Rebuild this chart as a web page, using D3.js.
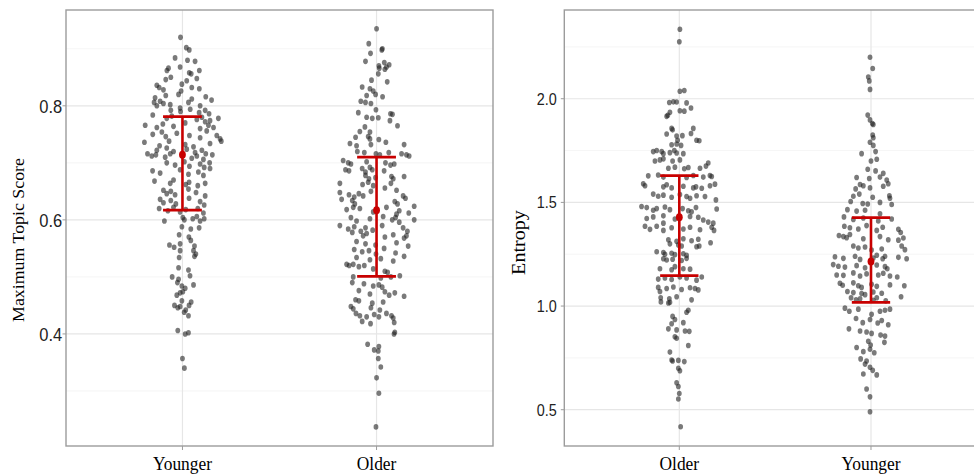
<!DOCTYPE html>
<html>
<head>
<meta charset="utf-8">
<script src="https://cdn.jsdelivr.net/npm/d3@7"></script>
<style>
  body { margin: 0; background: #fff; }
  svg { display: block; }
</style>
</head>
<body>
<svg id="chart" width="974" height="474"></svg>
<script>
// group labels + summary (mean and mean +/- sd)
var topicGroups = ["Younger", "Older"];
var topicMean = [0.714, 0.617];
var topicLow = [0.617, 0.501];
var topicHigh = [0.781, 0.710];
var topicTicks = [0.4, 0.6, 0.8];
var topicMinor = [0.3, 0.5, 0.7, 0.9];

var entropyGroups = ["Older", "Younger"];
var entropyMean = [1.428, 1.215];
var entropyLow = [1.147, 1.018];
var entropyHigh = [1.629, 1.427];
var entropyTicks = [0.5, 1.0, 1.5, 2.0];
var entropyMinor = [0.75, 1.25, 1.75, 2.25];

// raw points: [jitter (category units), value]
var topicYounger = [
  [-0.01,0.920],[0.02,0.902],[0.035,0.898],[-0.038,0.884],[0.026,0.880],[0.065,0.878],
  [-0.072,0.866],[-0.08,0.862],[-0.012,0.868],[0.035,0.858],[0.045,0.856],[0.087,0.862],
  [-0.086,0.846],[-0.060,0.850],[0.022,0.844],[0.074,0.848],
  [-0.132,0.836],[-0.12,0.832],[-0.098,0.828],[-0.003,0.838],[-0.007,0.826],[0.048,0.832],[0.087,0.830],
  [-0.086,0.818],[-0.02,0.820],[0.048,0.812],[0.12,0.816],[0.15,0.810],[-0.141,0.814],
  [-0.146,0.806],[-0.132,0.800],[-0.115,0.808],[-0.098,0.804],[-0.063,0.802],[0.091,0.800],[0.031,0.806],[-0.012,0.796],
  [-0.06,0.792],[-0.01,0.790],[0.04,0.794],[0.086,0.788],[0.117,0.792],[0.137,0.786],
  [-0.153,0.784],[-0.081,0.778],[-0.055,0.782],[0.074,0.776],[0.1,0.780],[0.185,0.778],[0.117,0.772],[0.142,0.774],
  [-0.192,0.766],[-0.132,0.762],[-0.101,0.768],[-0.046,0.764],[0.014,0.770],[0.091,0.760],[0.134,0.766],[0.16,0.762],
  [-0.153,0.750],[-0.106,0.754],[-0.086,0.746],[-0.029,0.752],[0.036,0.748],[0.091,0.744],[0.125,0.756],[0.177,0.748],[0.194,0.742],
  [-0.196,0.736],[-0.118,0.730],[-0.069,0.738],[0.014,0.732],[0.057,0.728],[0.142,0.734],[0.2,0.738],
  [-0.132,0.722],[-0.081,0.726],[-0.046,0.720],[0.022,0.724],[0.065,0.718],[0.1,0.722],[0.12,0.716],
  [-0.18,0.716],[-0.158,0.712],[-0.137,0.714],[-0.089,0.710],[-0.063,0.716],[0.048,0.708],[0.074,0.712],[0.108,0.706],[0.154,0.714],
  [-0.081,0.700],[-0.038,0.696],[0.01,0.702],[0.036,0.694],[0.091,0.698],[0.112,0.692],[0.14,0.700],[0.142,0.690],
  [-0.154,0.686],[-0.115,0.682],[-0.012,0.688],[0.031,0.680],[0.082,0.684],[0.108,0.678],
  [-0.144,0.668],[-0.063,0.664],[-0.046,0.670],[0.017,0.662],[0.034,0.666],[0.079,0.660],[0.117,0.664],
  [-0.098,0.652],[-0.081,0.646],[-0.06,0.650],[-0.038,0.644],[0.031,0.654],[0.07,0.648],[0.117,0.642],
  [-0.115,0.636],[-0.098,0.630],[-0.06,0.634],[-0.034,0.628],[0.034,0.638],[0.091,0.632],[0.112,0.626],
  [-0.12,0.620],[-0.075,0.616],[-0.046,0.622],[-0.012,0.614],[0.017,0.618],[0.079,0.620],[0.108,0.612],
  [-0.093,0.598],[0.002,0.604],[0.01,0.600],[0.053,0.602],[0.074,0.606],[0.091,0.598],[0.112,0.602],
  [-0.003,0.588],[0.043,0.584],[0.086,0.586],[-0.017,0.574],[0.033,0.570],[0.043,0.564],
  [-0.067,0.556],[-0.043,0.552],[-0.012,0.558],[0.062,0.554],
  [-0.012,0.546],[-0.017,0.534],[0.057,0.546],[0.069,0.540],[0.062,0.536],
  [-0.02,0.516],[0.031,0.512],[-0.053,0.500],[-0.02,0.496],[0.039,0.502],
  [-0.026,0.490],[-0.003,0.484],[0.014,0.480],[0.057,0.486],
  [-0.012,0.472],[-0.029,0.468],[0.002,0.474],[-0.003,0.458],[0.045,0.456],
  [-0.041,0.450],[-0.024,0.446],[-0.012,0.448],[0.017,0.442],[0.034,0.450],
  [0.009,0.438],[0.031,0.432],[-0.024,0.406],[0.014,0.400],[0.031,0.402],
  [0.0,0.357],[0.01,0.340]
];

var topicOlder = [
  [0.0,0.935],[-0.04,0.909],[0.027,0.898],[0.03,0.900],[-0.031,0.892],
  [-0.057,0.878],[0.012,0.870],[0.04,0.876],[0.051,0.868],[0.065,0.872],[0.014,0.866],[0.043,0.864],[0.009,0.856],
  [-0.026,0.845],[0.055,0.842],[-0.074,0.833],[-0.034,0.830],[-0.017,0.826],
  [-0.051,0.818],[-0.005,0.820],[0.031,0.816],[-0.081,0.808],[-0.057,0.806],[-0.029,0.804],
  [-0.003,0.793],[-0.094,0.788],[0.072,0.786],[0.082,0.785],[-0.051,0.780],[-0.022,0.778],[0.009,0.779],[0.069,0.774],
  [0.108,0.765],[-0.06,0.763],[-0.086,0.755],[-0.034,0.754],
  [-0.108,0.745],[-0.043,0.746],[-0.034,0.742],[0.012,0.741],
  [-0.137,0.734],[-0.103,0.730],[-0.029,0.732],[0.048,0.736],[0.142,0.732],
  [-0.099,0.720],[-0.063,0.718],[-0.003,0.716],[0.017,0.714],[0.063,0.718],[0.129,0.716],[0.154,0.714],[0.168,0.712],
  [-0.172,0.704],[-0.146,0.700],[-0.132,0.698],[-0.051,0.702],[0.046,0.700],[0.072,0.696],[0.091,0.698],[-0.034,0.692],
  [-0.16,0.688],[-0.142,0.686],[-0.074,0.690],[-0.057,0.684],[-0.022,0.688],[0.039,0.686],
  [-0.057,0.678],[-0.005,0.674],[0.077,0.676],[0.086,0.672],[0.142,0.676],[-0.039,0.672],
  [-0.189,0.664],[-0.072,0.662],[-0.043,0.666],[-0.017,0.660],[0.043,0.656],[0.074,0.664],[0.103,0.652],
  [-0.189,0.648],[-0.142,0.644],[-0.115,0.640],[-0.091,0.646],[-0.069,0.642],[-0.029,0.650],[0.137,0.642],
  [-0.18,0.636],[-0.125,0.634],[-0.112,0.628],[-0.12,0.622],[0.094,0.632],[0.108,0.628],[0.149,0.638],[0.194,0.624],
  [-0.154,0.618],[-0.086,0.620],[-0.017,0.614],[0.051,0.622],[0.117,0.616],[0.166,0.612],[0.103,0.610],
  [-0.132,0.604],[-0.103,0.598],[-0.034,0.602],[0.034,0.606],[0.081,0.600],[0.117,0.596],[0.098,0.604],[0.194,0.600],
  [-0.189,0.590],[-0.146,0.584],[-0.115,0.588],[-0.081,0.580],[-0.057,0.586],[-0.02,0.582],[0.029,0.590],[0.137,0.586],[0.159,0.580],
  [-0.125,0.578],[-0.069,0.572],[-0.051,0.576],[0.043,0.570],[0.086,0.574],[0.142,0.568],[0.154,0.572],
  [-0.103,0.562],[-0.057,0.558],[-0.005,0.556],[0.103,0.560],[0.163,0.554],
  [-0.115,0.548],[-0.074,0.544],[-0.039,0.546],[-0.003,0.540],[0.039,0.550],[0.098,0.542],
  [-0.103,0.534],[-0.034,0.530],[0.022,0.532],[0.086,0.528],[0.142,0.536],
  [-0.154,0.522],[-0.141,0.520],[-0.12,0.522],[-0.091,0.518],[-0.063,0.520],
  [-0.017,0.514],[0.043,0.510],[0.057,0.508],
  [-0.12,0.500],[0.022,0.498],[0.074,0.500],[0.12,0.502],
  [-0.125,0.490],[-0.065,0.488],[-0.017,0.484],[0.012,0.486],[0.029,0.482],
  [-0.091,0.476],[-0.034,0.470],[0.043,0.474],[0.065,0.468],[0.094,0.472],[0.142,0.466],
  [-0.108,0.460],[-0.091,0.458],[-0.022,0.454],[0.034,0.456],
  [-0.132,0.448],[-0.12,0.444],[-0.029,0.446],[0.017,0.442],
  [-0.106,0.436],[-0.086,0.432],[-0.051,0.430],[-0.012,0.434],[0.012,0.430],[0.051,0.436],[0.077,0.432],[0.086,0.428],
  [-0.074,0.422],[-0.031,0.418],[0.091,0.420],[0.094,0.403],[0.09,0.400],
  [-0.046,0.382],[0.012,0.378],[-0.012,0.372],[0.009,0.370],[0.009,0.357],
  [0.022,0.342],[0.0,0.323],[0.012,0.296],[-0.003,0.237]
];

var entropyOlder = [
  [0.003,2.335],[0.0,2.275],[0.003,2.036],[0.026,2.040],
  [-0.052,1.982],[-0.031,1.985],[-0.014,1.984],[0.038,1.980],
  [0.003,1.942],[0.026,1.940],[0.061,1.955],[-0.049,1.935],[-0.066,1.915],[-0.06,1.92],
  [-0.04,1.857],[-0.035,1.850],[0.073,1.857],
  [-0.066,1.830],[-0.014,1.820],[0.016,1.822],[0.061,1.832],
  [-0.009,1.800],[0.09,1.800],[0.104,1.797],[-0.04,1.778],[-0.014,1.782],[0.009,1.775],
  [-0.136,1.745],[-0.118,1.750],[-0.092,1.745],[-0.049,1.740],[-0.026,1.750],[-0.014,1.738],[0.021,1.735],[-0.083,1.735],
  [-0.127,1.700],[-0.101,1.705],[-0.083,1.710],[-0.035,1.700],[0.003,1.705],[0.151,1.690],
  [-0.057,1.665],[-0.023,1.670],[0.026,1.662],[0.047,1.668],[0.108,1.665],[0.139,1.675],
  [-0.162,1.628],[-0.11,1.632],[-0.083,1.622],[0.038,1.620],[0.073,1.630],[0.125,1.622],[0.16,1.630],[0.169,1.625],
  [-0.188,1.590],[-0.179,1.580],[-0.083,1.575],[-0.066,1.585],[-0.04,1.570],[0.021,1.578],[0.073,1.570],[0.087,1.575],[0.117,1.568],[0.16,1.580],[0.186,1.588],
  [-0.136,1.540],[-0.11,1.530],[-0.083,1.535],[-0.04,1.525],[0.003,1.538],[0.038,1.528],[0.056,1.520],[0.09,1.532],[0.134,1.528],[0.191,1.512],
  [-0.197,1.480],[-0.17,1.475],[-0.136,1.462],[-0.118,1.470],[-0.075,1.478],[-0.049,1.465],[0.017,1.470],[0.047,1.460],[0.064,1.455],[0.087,1.475],[0.195,1.468],
  [-0.17,1.422],[-0.136,1.430],[-0.083,1.435],[-0.023,1.420],[0.056,1.432],[0.099,1.428],[0.125,1.415],[0.151,1.405],[0.177,1.400],[-0.083,1.400],
  [-0.179,1.385],[-0.153,1.370],[-0.118,1.385],[-0.083,1.365],[-0.04,1.378],[0.021,1.372],[0.056,1.380],[0.108,1.368],[0.169,1.380],[0.181,1.365],
  [-0.057,1.320],[-0.014,1.312],[0.021,1.325],[0.064,1.315],[0.099,1.322],[0.163,1.305],
  [-0.049,1.300],[-0.005,1.295],[0.012,1.290],[0.09,1.286],[0.104,1.290],
  [-0.118,1.262],[-0.083,1.258],[-0.075,1.250],[-0.04,1.255],[-0.023,1.248],[0.021,1.252],[0.038,1.245],
  [-0.083,1.228],[-0.066,1.222],[-0.035,1.226],[0.012,1.220],[0.038,1.230],
  [-0.101,1.180],[-0.04,1.175],[-0.023,1.190],[0.021,1.180],[0.056,1.178],
  [-0.11,1.130],[-0.075,1.135],[-0.04,1.128],[0.003,1.140],[0.038,1.135],[0.09,1.125],[0.117,1.140],
  [-0.11,1.090],[-0.066,1.085],[-0.031,1.092],[0.012,1.080],[0.056,1.088],[0.082,1.085],[0.099,1.078],[-0.101,1.070],
  [-0.097,1.040],[-0.052,1.035],[-0.014,1.045],[0.064,1.030],[-0.096,1.020],[-0.057,1.015],[-0.049,1.018],
  [0.047,0.980],[0.038,0.970],[-0.035,0.950],[-0.023,0.935],[-0.04,0.915],[0.021,0.920],
  [-0.057,0.890],[-0.014,0.885],[0.03,0.880],[0.052,0.878],[-0.023,0.852],[-0.014,0.845],
  [0.047,0.810],[-0.049,0.778],[-0.04,0.740],[-0.035,0.735],[-0.005,0.738],[0.026,0.732],
  [-0.005,0.700],[0.003,0.688],[-0.014,0.630],[-0.005,0.612],[0.0,0.578],[-0.005,0.552],[0.007,0.418]
];

var entropyYounger = [
  [-0.005,2.200],[0.009,2.146],[-0.014,2.105],[-0.009,2.086],[-0.005,2.045],
  [-0.017,1.921],[-0.005,1.898],[0.007,1.880],[0.012,1.876],[0.009,1.825],[0.012,1.812],
  [-0.005,1.790],[0.012,1.775],[0.024,1.745],[-0.049,1.735],[0.0,1.700],[0.03,1.708],
  [-0.017,1.660],[0.024,1.652],[0.064,1.640],
  [-0.075,1.620],[-0.009,1.615],[0.047,1.622],[0.082,1.608],
  [-0.057,1.586],[-0.04,1.580],[-0.08,1.565],[-0.005,1.570],[0.064,1.578],[0.09,1.590],
  [-0.092,1.530],[-0.061,1.540],[0.009,1.525],[0.096,1.532],[0.099,1.520],
  [-0.106,1.504],[-0.043,1.495],[-0.017,1.492],[0.047,1.500],[0.108,1.490],
  [-0.123,1.465],[-0.075,1.458],[-0.031,1.462],[0.047,1.445],
  [-0.141,1.430],[-0.092,1.418],[-0.04,1.425],[0.038,1.410],[0.108,1.420],
  [-0.139,1.385],[-0.11,1.378],[-0.066,1.372],[-0.023,1.388],[0.03,1.365],[0.061,1.380],[0.143,1.370],[0.155,1.355],
  [-0.167,1.340],[-0.144,1.335],[-0.127,1.330],[-0.11,1.345],[-0.04,1.325],[0.047,1.335],[0.09,1.320],[0.143,1.318],[0.169,1.328],
  [-0.092,1.290],[-0.066,1.280],[-0.031,1.285],[0.003,1.270],[0.056,1.275],[0.16,1.290],[0.177,1.272],
  [-0.188,1.238],[-0.144,1.230],[-0.083,1.240],[-0.057,1.225],[0.012,1.232],[0.03,1.245],[0.061,1.228],[0.073,1.240],[0.143,1.235],[0.186,1.228],
  [-0.197,1.200],[-0.17,1.192],[-0.136,1.188],[-0.075,1.195],[-0.031,1.185],[0.03,1.198],[0.073,1.190],[0.085,1.180],
  [-0.179,1.150],[-0.144,1.148],[-0.092,1.160],[-0.057,1.145],[-0.023,1.155],[0.038,1.150],[0.064,1.158],[0.099,1.145],[0.137,1.140],
  [-0.162,1.110],[-0.148,1.100],[-0.092,1.112],[-0.066,1.098],[-0.049,1.090],[0.003,1.105],[0.03,1.095],[0.099,1.102],[0.174,1.098],
  [-0.123,1.070],[-0.092,1.065],[-0.049,1.060],[-0.031,1.055],[0.012,1.068],[0.056,1.062],[0.157,1.045],
  [-0.104,1.040],[-0.078,1.030],[-0.057,1.035],[0.012,1.028],[0.03,1.040],[0.077,1.025],
  [-0.136,0.990],[-0.113,0.975],[-0.066,0.985],[0.003,0.960],[0.047,0.975],[0.073,0.980],[0.099,0.985],
  [-0.078,0.940],[-0.043,0.920],[-0.005,0.935],[0.035,0.918],[0.056,0.930],[0.09,0.910],
  [-0.115,0.890],[-0.057,0.880],[-0.023,0.875],[0.003,0.868],[0.05,0.860],[0.073,0.855],
  [-0.014,0.830],[-0.002,0.812],[0.07,0.825],
  [-0.075,0.800],[-0.04,0.780],[-0.005,0.792],[0.017,0.775],
  [-0.054,0.745],[-0.023,0.735],[-0.031,0.720],
  [-0.005,0.705],[0.009,0.690],[-0.04,0.672],[0.03,0.668],
  [-0.023,0.600],[-0.005,0.562],[-0.005,0.490]
];

var svg = d3.select("#chart");
var stretch = "scale(1,1.13)";   // source image is a bit taller than wide

function drawPanel(cfg) {
  var g = svg.append("g");
  var x = d3.scaleLinear().domain([0.4, 2.6]).range([cfg.left, cfg.right]);
  var y = d3.scaleLinear().domain(cfg.yDomain).range([446, 10]);

  // minor + major grid
  g.selectAll("line.minor").data(cfg.minor).enter().append("line")
    .attr("x1", cfg.left).attr("x2", cfg.right)
    .attr("y1", y).attr("y2", y)
    .style("stroke", "#f0f0f0").style("stroke-width", 0.7);
  g.selectAll("line.major").data(cfg.ticks).enter().append("line")
    .attr("x1", cfg.left).attr("x2", cfg.right)
    .attr("y1", y).attr("y2", y)
    .style("stroke", "#e6e6e6").style("stroke-width", 1.2);
  g.selectAll("line.vmajor").data(cfg.groups).enter().append("line")
    .attr("x1", function(d, i) { return x(i + 1); })
    .attr("x2", function(d, i) { return x(i + 1); })
    .attr("y1", 10).attr("y2", 446)
    .style("stroke", "#e6e6e6").style("stroke-width", 1.2);

  // jittered points
  cfg.points.forEach(function(pts, i) {
    g.append("g").selectAll("ellipse").data(pts).enter().append("ellipse")
      .attr("cx", function(d) { return x(i + 1 + d[0]); })
      .attr("cy", function(d) { return y(d[1]); })
      .attr("rx", 2.4).attr("ry", 2.8)
      .style("fill", "#222").style("fill-opacity", 0.6);
  });

  // mean +/- sd
  var red = "#c80000";
  var eb = g.selectAll("g.eb").data(cfg.groups).enter().append("g");
  eb.append("line")
    .attr("x1", function(d, i) { return x(i + 1); })
    .attr("x2", function(d, i) { return x(i + 1); })
    .attr("y1", function(d, i) { return y(cfg.high[i]); })
    .attr("y2", function(d, i) { return y(cfg.low[i]); })
    .style("stroke", red).style("stroke-width", 2.6);
  [cfg.high, cfg.low].forEach(function(arr) {
    eb.append("line")
      .attr("x1", function(d, i) { return x(i + 0.9); })
      .attr("x2", function(d, i) { return x(i + 1.1); })
      .attr("y1", function(d, i) { return y(arr[i]); })
      .attr("y2", function(d, i) { return y(arr[i]); })
      .style("stroke", red).style("stroke-width", 2.8);
  });
  eb.append("ellipse")
    .attr("cx", function(d, i) { return x(i + 1); })
    .attr("cy", function(d, i) { return y(cfg.mean[i]); })
    .attr("rx", 3.4).attr("ry", 4)
    .style("fill", red);

  // border
  g.append("rect")
    .attr("x", cfg.left).attr("y", 10)
    .attr("width", cfg.right - cfg.left).attr("height", 436)
    .style("fill", "none").style("stroke", "#9c9c9c").style("stroke-width", 1.4);

  // y ticks + labels
  g.selectAll("line.ytick").data(cfg.ticks).enter().append("line")
    .attr("x1", cfg.left - 3.5).attr("x2", cfg.left)
    .attr("y1", y).attr("y2", y)
    .style("stroke", "#9c9c9c").style("stroke-width", 1);
  g.selectAll("text.ylab").data(cfg.ticks).enter().append("text")
    .attr("transform", function(d) { return "translate(" + cfg.tickX + "," + y(d) + ") " + stretch; })
    .attr("dy", "0.36em")
    .style("text-anchor", "end")
    .style("font-family", "'Liberation Sans', Arial, sans-serif")
    .style("font-size", cfg.tickSize + "px")
    .style("fill", "#222")
    .text(d3.format(".1f"));

  // x ticks + labels
  g.selectAll("line.xtick").data(cfg.groups).enter().append("line")
    .attr("x1", function(d, i) { return x(i + 1); })
    .attr("x2", function(d, i) { return x(i + 1); })
    .attr("y1", 446).attr("y2", 450)
    .style("stroke", "#9c9c9c").style("stroke-width", 1);
  g.selectAll("text.xlab").data(cfg.groups).enter().append("text")
    .attr("transform", function(d, i) { return "translate(" + x(i + 1) + ",469.5) " + stretch; })
    .style("text-anchor", "middle")
    .style("font-family", "'Liberation Serif', 'Times New Roman', serif")
    .style("font-size", "17.4px")
    .style("fill", "#000")
    .text(function(d) { return d; });

  // y title
  g.append("text")
    .attr("transform", "translate(" + cfg.titleX + "," + cfg.titleY + ") " + stretch + " rotate(-90)")
    .style("text-anchor", "middle")
    .style("font-family", "'Liberation Serif', 'Times New Roman', serif")
    .style("font-size", cfg.titleSize + "px")
    .style("fill", "#000")
    .text(cfg.title);
}

drawPanel({
  left: 66, right: 493, yDomain: [0.2035, 0.968],
  groups: topicGroups, points: [topicYounger, topicOlder],
  mean: topicMean, low: topicLow, high: topicHigh,
  ticks: topicTicks, minor: topicMinor,
  tickX: 62.3, tickSize: 16.5,
  title: "Maximum Topic Score", titleX: 23.5, titleY: 240, titleSize: 15.8
});

drawPanel({
  left: 564.3, right: 986, yDomain: [0.325, 2.428],
  groups: entropyGroups, points: [entropyOlder, entropyYounger],
  mean: entropyMean, low: entropyLow, high: entropyHigh,
  ticks: entropyTicks, minor: entropyMinor,
  tickX: 556.7, tickSize: 14.4,
  title: "Entropy", titleX: 524.5, titleY: 242.5, titleSize: 17.8
});
</script>
</body>
</html>
